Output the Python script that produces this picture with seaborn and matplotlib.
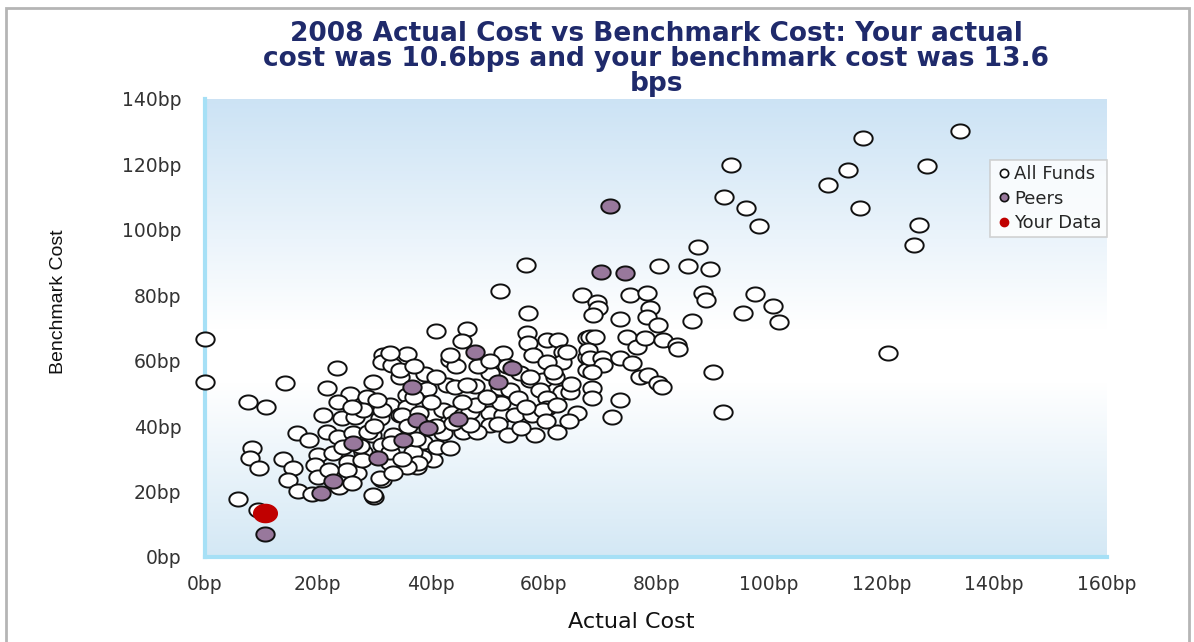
import numpy as np
import pandas as pd
import matplotlib
matplotlib.use("Agg")
import matplotlib.pyplot as plt
import seaborn as sns
from matplotlib.path import Path
from matplotlib.lines import Line2D
from matplotlib.patches import Rectangle

# All funds (actual cost, benchmark cost) in bp
all_x = [0, 0, 14.2, 23.4, 21.6, 7.7, 10.8, 8.4, 8.0, 9.6, 13.8, 15.6, 14.7, 16.5, 19.0,
         23.8, 5.9, 9.4, 16.3, 18.4, 20.0, 22.7, 25.4, 27.0, 25.2, 30.0, 31.4, 29.8, 31.6, 31.4,
         25.7, 28.7, 23.6, 20.9, 24.3, 26.6, 28.0, 31.0, 21.6, 23.6, 26.3, 29.6, 31.4, 28.0, 32.8,
         35.8, 33.2, 34.6, 39.4, 35.8, 32.8, 34.6, 33.3, 27.8, 32.8, 37.6, 37.2, 31.0, 29.8, 39.9,
         40.4, 28.9, 43.4, 44.5, 57.1, 57.3, 60.6, 62.6, 63.5, 63.3, 32.8, 34.6, 42.9, 44.3, 47.9,
         50.5, 52.3, 54.1, 57.6, 59.9, 62.1, 59.4, 63.3, 64.7, 60.6, 60.6, 31.4, 35.8, 34.9, 40.4,
         42.2, 43.8, 45.7, 47.0, 50.5, 52.8, 55.0, 58.0, 59.9, 50.5, 52.0, 42.2, 45.7, 48.2, 53.7,
         58.5, 62.4, 38.7, 41.1, 43.4, 38.5, 36.9, 32.8, 37.8, 35.8, 33.3, 41.0, 46.5, 45.6, 43.5,
         52.9, 58.2, 64.2, 60.7, 67.8, 67.8, 67.8, 55.9, 57.6, 61.7, 46.5, 56.9, 52.3, 57.3, 87.4,
         80.5, 85.6, 89.5, 66.8, 69.5, 69.7, 68.8, 75.4, 78.4, 78.9, 78.4, 80.3, 73.6, 86.3, 88.3,
         88.8, 95.4, 97.5, 68.3, 69.1, 67.9, 68.3, 70.4, 70.6, 73.6, 74.8, 76.6, 78.0, 81.2, 83.7,
         83.9, 75.7, 68.6, 77.1, 78.5, 80.3, 81.0, 90.1, 68.6, 68.6, 73.6, 72.2, 91.8, 133.9, 116.7,
         93.3, 114.0, 128.0, 110.5, 92.0, 95.9, 116.1, 98.2, 126.6, 125.7, 100.7, 101.8, 121.1,
         36.0, 38.0, 41.0, 44.0, 47.0, 37.5, 33.0, 30.0, 27.5, 24.5, 19.5, 20.0, 22.0, 35.0, 26.0,
         48.0, 52.5, 55.5, 57.0, 45.5, 50.0, 40.0, 37.0, 30.5, 26.0, 39.0, 37.0, 41.0, 48.5, 53.5,
         50.5, 62.5, 65.0, 66.0, 60.5, 56.0, 64.5]
all_y = [66.5, 53.5, 53.2, 57.8, 51.6, 47.4, 45.9, 33.3, 30.3, 27.2, 30.0, 27.2, 23.5, 20.2, 19.3,
         21.4, 17.7, 14.3, 37.9, 35.8, 31.2, 31.8, 29.0, 25.7, 26.6, 18.3, 23.5, 53.5, 61.8, 59.6,
         49.8, 49.0, 47.4, 43.4, 42.5, 42.8, 44.9, 42.5, 38.2, 36.7, 37.9, 37.3, 34.2, 32.1, 45.9,
         62.0, 58.7, 55.0, 51.4, 49.5, 46.5, 43.4, 37.3, 29.7, 28.7, 27.5, 31.2, 24.1, 19.0, 32.1,
         29.7, 38.2, 60.2, 58.4, 68.5, 65.4, 66.4, 66.4, 62.7, 59.6, 62.4, 57.2, 52.6, 52.0, 52.3,
         56.3, 51.7, 51.1, 54.1, 54.1, 55.0, 51.1, 50.5, 50.5, 48.6, 45.6, 45.0, 45.9, 43.4, 43.4,
         45.0, 44.0, 43.4, 44.3, 44.0, 43.4, 43.4, 43.4, 45.0, 40.4, 40.7, 37.9, 38.2, 38.2, 37.3,
         37.3, 38.2, 35.2, 33.6, 33.3, 30.5, 32.1, 32.1, 28.7, 27.5, 25.7, 69.1, 69.7, 66.0, 61.8,
         62.4, 61.8, 62.7, 59.7, 66.9, 61.2, 57.2, 56.2, 55.0, 56.5, 52.6, 89.3, 81.3, 74.6, 94.8,
         89.0, 89.0, 88.1, 80.1, 78.0, 76.1, 74.0, 80.1, 80.7, 76.1, 73.4, 70.9, 72.8, 72.2, 80.7,
         78.6, 74.6, 80.4, 67.3, 67.3, 63.3, 60.9, 60.9, 58.7, 60.9, 67.3, 64.2, 67.0, 66.4, 64.8,
         63.6, 59.3, 56.6, 55.0, 55.7, 53.2, 52.0, 56.6, 51.7, 48.6, 48.0, 42.8, 44.3, 130.3, 128.1,
         119.9, 118.3, 119.6, 113.8, 110.1, 106.7, 106.7, 101.2, 101.5, 95.4, 76.8, 71.9, 62.4,
         40.0, 44.0, 40.0, 41.0, 40.5, 36.0, 35.0, 40.0, 34.0, 33.5, 28.0, 24.5, 26.5, 30.0, 22.5,
         46.5, 47.0, 48.5, 46.0, 47.5, 49.0, 47.5, 49.0, 48.0, 46.0, 56.0, 58.5, 55.0, 58.5, 58.5,
         60.0, 46.5, 53.0, 44.0, 41.5, 39.5, 41.5]

# Peer group
peer_x = [10.6, 20.6, 22.7, 26.3, 30.7, 36.7, 37.6, 39.6, 35.1, 47.9, 52.0, 54.5, 44.9, 71.8, 70.2, 74.5]
peer_y = [7.0, 19.6, 23.2, 34.8, 30.3, 52.0, 41.9, 39.5, 35.8, 62.7, 53.5, 57.8, 42.2, 107.3, 87.1, 86.8]

# Your data
your_x = [10.6]
your_y = [13.6]

x_ticks = [0, 20, 40, 60, 80, 100, 120, 140, 160]
y_ticks = [0, 20, 40, 60, 80, 100, 120, 140]

df_all = pd.DataFrame({"actual": all_x, "bench": all_y})
df_peer = pd.DataFrame({"actual": peer_x, "bench": peer_y})
df_you = pd.DataFrame({"actual": your_x, "bench": your_y})

sns.set_style("white")
plt.rcParams["font.family"] = ["DejaVu Sans"]

fig = plt.figure(figsize=(11.94, 6.42), dpi=100)
ax = fig.add_axes([205 / 1194, 1 - 557 / 642, 902 / 1194, 458 / 642])

# background gradient: blue at top, white in the middle, pale blue at bottom
stops = np.array([0.0, 0.5, 0.62, 1.0])
top = np.array([0.80, 0.89, 0.96])
white = np.array([1.0, 1.0, 1.0])
bottom = np.array([0.83, 0.91, 0.96])
t = np.linspace(0, 1, 256)
grad = np.stack([np.interp(t, stops, [top[i], white[i], white[i], bottom[i]]) for i in range(3)], axis=1)
ax.imshow(grad[:, None, :], extent=(0, 1, 0, 1), transform=ax.transAxes, aspect="auto", zorder=0)

# slightly wide ellipse marker like the original
theta = np.linspace(0, 2 * np.pi, 60)
ell = Path(np.column_stack([1.3 * np.cos(theta), np.sin(theta)]), closed=True)

sns.scatterplot(data=df_all, x="actual", y="bench", ax=ax, marker=ell, s=175,
                color="white", edgecolor="#111111", linewidth=1.4, clip_on=False, zorder=3)
sns.scatterplot(data=df_peer, x="actual", y="bench", ax=ax, marker=ell, s=175,
                color="#98789c", edgecolor="#111111", linewidth=1.4, clip_on=False, zorder=4)
sns.scatterplot(data=df_you, x="actual", y="bench", ax=ax, marker=ell, s=290,
                color="#c00000", edgecolor="#c00000", linewidth=1, clip_on=False, zorder=5)

ax.set_xlim(0, 160)
ax.set_ylim(0, 140)
ax.set_xticks(x_ticks)
ax.set_yticks(y_ticks)
ax.set_xticklabels([f"{v}bp" for v in x_ticks])
ax.set_yticklabels([f"{v}bp" for v in y_ticks])
ax.tick_params(axis="both", direction="inout", length=10, width=1.2, color="#c8ecf9",
               labelsize=13.5, labelcolor="#333333")
ax.tick_params(axis="y", pad=12)
ax.tick_params(axis="x", pad=8)

for side in ["top", "right"]:
    ax.spines[side].set_visible(False)
for side in ["left", "bottom"]:
    ax.spines[side].set_color("#a6e0f6")
    ax.spines[side].set_linewidth(3)

ax.set_xlabel("Actual Cost", fontsize=16, color="#111111")
ax.set_ylabel("Benchmark Cost", fontsize=14, color="#111111",
              family=["Liberation Sans Narrow", "Liberation Sans"])
ax.xaxis.set_label_coords(0.473, -0.12)
ax.yaxis.set_label_coords(-0.153, 0.557)

ax.set_title("2008 Actual Cost vs Benchmark Cost: Your actual\n"
             "cost was 10.6bps and your benchmark cost was 13.6\nbps",
             fontsize=19, fontweight="bold", color="#1f2a6b", pad=6, linespacing=0.95)

handles = [
    Line2D([], [], marker="o", linestyle="", markersize=6, markerfacecolor="white",
           markeredgecolor="#111111", markeredgewidth=1.2),
    Line2D([], [], marker="o", linestyle="", markersize=6, markerfacecolor="#98789c",
           markeredgecolor="#111111", markeredgewidth=1.2),
    Line2D([], [], marker="o", linestyle="", markersize=6, markerfacecolor="#c00000",
           markeredgecolor="#c00000"),
]
leg = ax.legend(handles, ["All Funds", "Peers", "Your Data"], loc="upper right",
                bbox_to_anchor=(1.0, 0.867), borderaxespad=0, frameon=True, fancybox=False,
                fontsize=13, handletextpad=0.05, handlelength=1.0, borderpad=0.3,
                labelspacing=0.35)
leg.get_frame().set_edgecolor("#c8c8c8")
leg.get_frame().set_linewidth(1.2)
leg.set_zorder(10)

# outer grey frame
fig.add_artist(Rectangle((6 / 1194, -0.02), 1183 / 1194, 1 - 8 / 642 + 0.02,
                         transform=fig.transFigure, fill=False, edgecolor="#b5b5b5", linewidth=2))

fig.savefig("out.png", dpi=100)
